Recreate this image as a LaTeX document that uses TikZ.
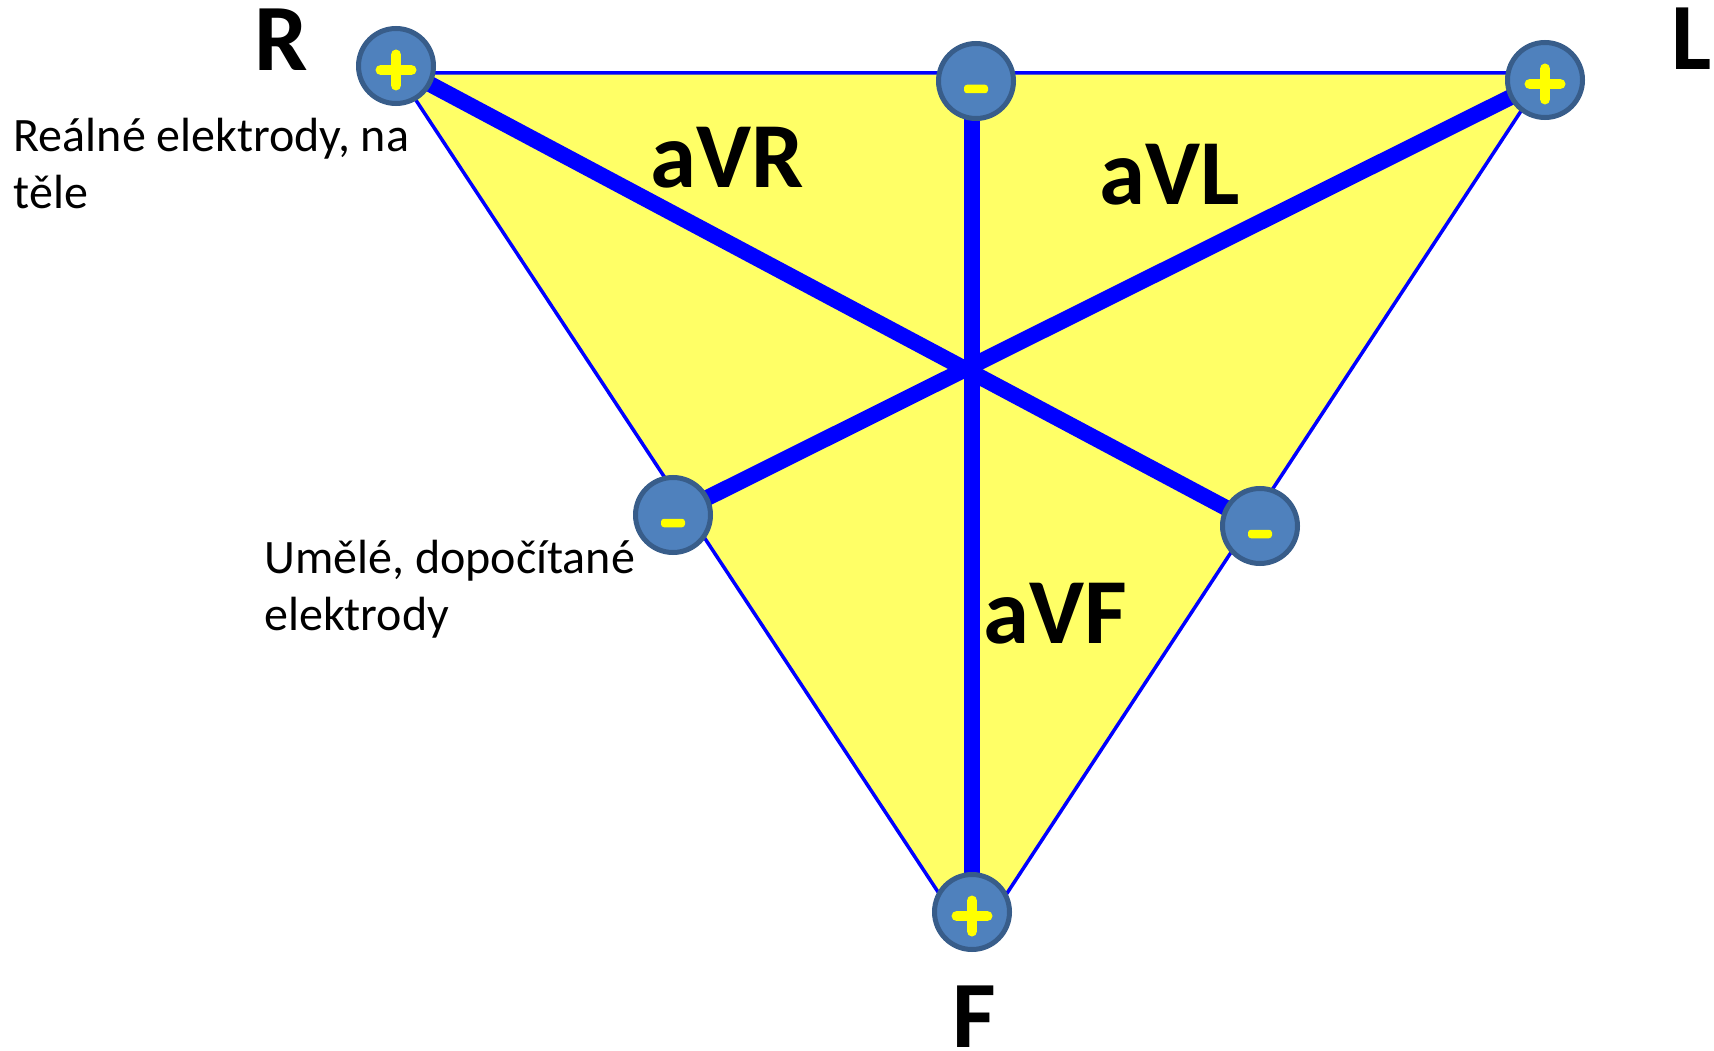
\documentclass[tikz,border=0pt]{standalone}
\usepackage{fontspec}
\setmainfont{Carlito}
\usetikzlibrary{backgrounds}
\definecolor{triyellow}{HTML}{FFFF66}
\definecolor{elfill}{HTML}{4F81BD}
\definecolor{eldraw}{HTML}{385D8A}
\definecolor{lineblue}{HTML}{0000FF}
\definecolor{signyellow}{HTML}{FFFF00}
\begin{document}
\begin{tikzpicture}[x=1pt,y=-1pt,
  electrode/.style={circle, fill=elfill, draw=eldraw, line width=5pt, minimum size=75pt, inner sep=0pt},
  triedge/.style={draw=lineblue, line width=3.5pt, line join=round},
  leadaxis/.style={draw=lineblue, line width=16pt},
  plussign/.style={draw=signyellow, line width=10.5pt, line cap=round},
  minussign/.style={fill=signyellow, rounded corners=3pt},
  biglabel/.style={font=\fontsize{95}{95}\selectfont\bfseries, inner sep=0pt, anchor=base},
  leadlabel/.style={font=\fontsize{93}{93}\selectfont\bfseries, inner sep=0pt, anchor=base},
  note/.style={font=\fontsize{48}{57}\selectfont, inner sep=0pt, align=left, anchor=base west}
]
\useasboundingbox (0,0) rectangle (1714,1051);
% electrodes
\node[electrode] (R) at (396,66) {};
\node[electrode] (L) at (1545,80) {};
\node[electrode] (F) at (972,912) {};
\node[electrode] (mT) at (976,81) {};
\node[electrode] (mL) at (673,515) {};
\node[electrode] (mR) at (1260,526) {};
% triangle and lead axes behind
\coordinate (tR) at (398,73);
\coordinate (tL) at (1546,73);
\coordinate (tF) at (973,945);
\begin{pgfonlayer}{background}
\fill[white] (0,0) rectangle (1714,1051);
\fill[triyellow] (tR) -- (tL) -- (tF) -- cycle;
\draw[triedge] (tR) -- (tL) -- (tF) -- cycle;
\draw[leadaxis] (R.center) -- (mR.center);
\draw[leadaxis] (L.center) -- (mL.center);
\draw[leadaxis] (F.center) -- (F.center |- mT.center);
\end{pgfonlayer}
% signs
\foreach \n in {R,L,F} {
  \draw[plussign] ([yshift=-4pt]\n.center) +(-15.25,0) -- +(15.25,0) +(0,-15.25) -- +(0,15.25);
}
\foreach \n in {mT,mL,mR} {
  \fill[minussign] ([yshift=-8pt]\n.center) +(-12,-4.25) rectangle +(12,4.25);
}
% labels
\node[biglabel] (labR) at (281.5,71) {R};
\node[biglabel] (labL) at (1691.5,70) {L};
\node[biglabel] (labF) at (974.5,1047) {F};
\node[leadlabel] (aVR) at (727,188) {aVR};
\node[leadlabel] (aVL) at (1169.5,205) {aVL};
\node[leadlabel] (aVF) at (1055,643) {aVF};
\node[note] (real) at (13.5,208.5) {Reálné elektrody, na\\těle};
\node[note] (art) at (264,630) {Umělé, dopočítané\\elektrody};
\end{tikzpicture}
\end{document}
